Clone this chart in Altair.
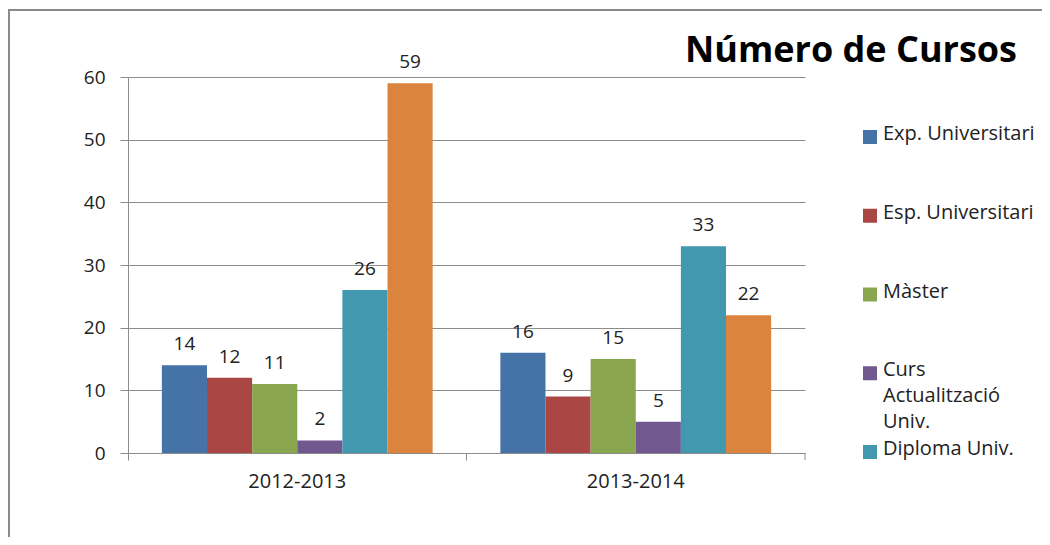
import altair as alt
import pandas as pd

years = ["2012-2013", "2013-2014"]
series = ["Exp. Universitari", "Esp. Universitari", "Màster",
          "Curs Actualització Univ.", "Diploma Univ.", "Altres"]
legend_series = series[:5]
legend_text = ["Exp. Universitari", "Esp. Universitari", "Màster",
               "Curs\nActualització\nUniv.", "Diploma Univ."]
vals_2012 = [14, 12, 11, 2, 26, 59]
vals_2013 = [16, 9, 15, 5, 33, 22]
colors = ["#4572A7", "#AA4643", "#89A54E", "#71588F", "#4198AF", "#DB843D"]
y_ticks = [0, 10, 20, 30, 40, 50, 60]
title_text = "Número de Cursos"

rows = []
for yr, vals in zip(years, [vals_2012, vals_2013]):
    for s, v in zip(series, vals):
        rows.append({"curs": yr, "tipus": s, "n": v})
df = pd.DataFrame(rows)
leg = pd.DataFrame({"tipus": legend_series, "etiqueta": legend_text})

FONT = "Open Sans"
GRID = "#8c8c8c"
TXT = "#222222"
W, H = 677, 376

color_scale = alt.Scale(domain=series, range=colors)

base = alt.Chart(df).encode(
    x=alt.X("curs:N", sort=years, title=None,
            scale=alt.Scale(paddingInner=0, paddingOuter=0),
            axis=alt.Axis(labelAngle=0, labelFont=FONT, labelFontSize=20,
                          labelColor=TXT, labelPadding=11,
                          bandPosition=0, tickSize=7, tickColor=GRID,
                          domainColor=GRID, grid=False)),
    xOffset=alt.XOffset("tipus:N", sort=series,
                        scale=alt.Scale(paddingInner=0, paddingOuter=0.75)),
    y=alt.Y("n:Q", title=None,
            scale=alt.Scale(domain=[0, 60], nice=False),
            axis=alt.Axis(values=y_ticks, labelFont=FONT, labelFontSize=19,
                          labelColor=TXT, labelPadding=15, tickSize=8,
                          tickColor=GRID, domainColor=GRID, gridColor=GRID)),
)

bars = base.mark_bar().encode(
    color=alt.Color("tipus:N", scale=color_scale, legend=None),
)

labels = base.mark_text(dy=-15, baseline="alphabetic", font=FONT,
                        fontSize=19, color=TXT).encode(text="n:Q")

main = alt.layer(bars, labels)

leg_y = alt.Y("tipus:N", sort=legend_series, axis=None,
              scale=alt.Scale(type="point", range=[60, 375], padding=0))
leg_sym = alt.Chart(leg).mark_square(size=196, opacity=1).encode(
    x=alt.value(742), y=leg_y,
    color=alt.Color("tipus:N", scale=color_scale, legend=None))
leg_txt = alt.Chart(leg).mark_text(
    align="left", baseline="top", dy=-13, lineBreak="\n", lineHeight=26,
    font=FONT, fontSize=20, color=TXT).encode(
    x=alt.value(755), y=leg_y, text="etiqueta:N")
legend = alt.layer(leg_sym, leg_txt)

one = pd.DataFrame({"t": [title_text]})
title = alt.Chart(one).mark_text(align="left", baseline="alphabetic",
                                 font=FONT, fontSize=36, fontWeight="bold",
                                 color="#000000").encode(
    x=alt.value(557), y=alt.value(-15), text="t:N")

frame_top = alt.Chart(one).mark_rule(color="#8a8a8a", strokeWidth=2).encode(
    x=alt.value(-121), x2=alt.value(1000), y=alt.value(-67))
frame_left = alt.Chart(one).mark_rule(color="#8a8a8a", strokeWidth=2).encode(
    x=alt.value(-119), y=alt.value(-68), y2=alt.value(500))
end_tick = alt.Chart(one).mark_rule(color=GRID, strokeWidth=1).encode(
    x=alt.value(W), y=alt.value(H), y2=alt.value(H + 7))

chart = alt.layer(frame_top, frame_left, main, legend, end_tick, title).resolve_scale(
    y="independent"
).properties(
    width=W, height=H,
    autosize=alt.AutoSizeParams(type="none"),
    padding={"left": 120, "top": 69, "right": 237, "bottom": 84},
).configure_view(stroke=None)

chart.save("out.html", embed_options={"renderer": "svg", "actions": False})
